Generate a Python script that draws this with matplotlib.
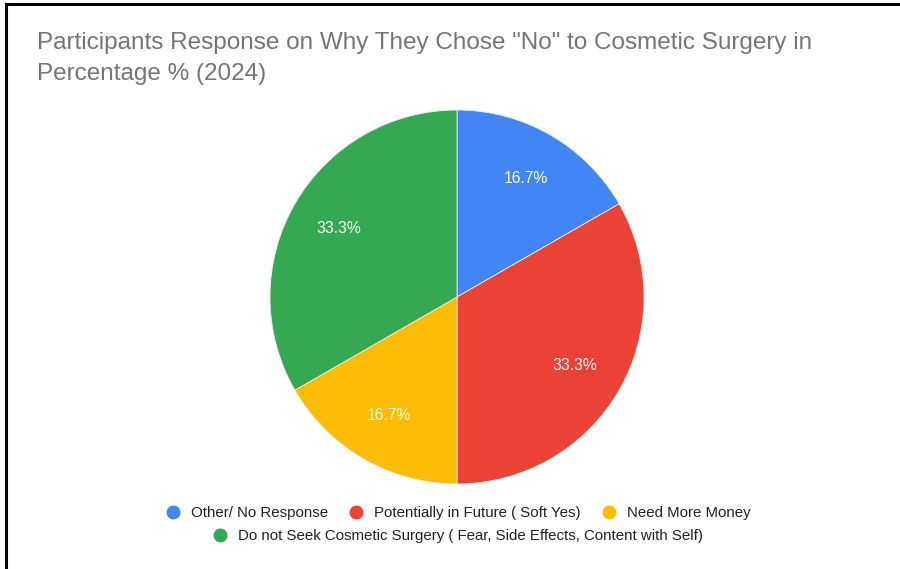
import matplotlib.pyplot as plt
from matplotlib.lines import Line2D

plt.rcParams['font.family'] = ['Liberation Sans', 'DejaVu Sans']

labels = ['Other/ No Response', 'Potentially in Future ( Soft Yes)', 'Need More Money',
          'Do not Seek Cosmetic Surgery ( Fear, Side Effects, Content with Self)']
values = [16.7, 33.3, 16.7, 33.3]
colors = ['#4285f4', '#ea4335', '#fbbc04', '#34a853']

W, H = 900, 569
fig = plt.figure(figsize=(9, 5.69), dpi=100)

# pie centred at (457, 297) px, radius ~187 px
cx, cy, r = 457, 297, 187
ax = fig.add_axes([(cx - r) / W, (H - cy - r) / H, 2 * r / W, 2 * r / H])
wedges, texts, autotexts = ax.pie(values, colors=colors, startangle=90, counterclock=False,
                                  autopct='%1.1f%%', pctdistance=0.73, radius=1,
                                  wedgeprops=dict(linewidth=0.6, edgecolor='#eeeeee'),
                                  textprops=dict(color='white', fontsize=11.3))
ax.set_xlim(-1, 1)
ax.set_ylim(-1, 1)
ax.set_aspect('equal')
ax.axis('off')

fig.text(37 / W, 1 - 32 / H, 'Participants Response on Why They Chose "No" to Cosmetic Surgery in\nPercentage % (2024)',
         fontsize=17.5, color='#757575', ha='left', va='top', linespacing=1.55)

handles = [Line2D([], [], marker='o', linestyle='', markersize=9, color=c) for c in colors]
leg1 = fig.legend(handles[:3], labels[:3], ncol=3, loc='center', bbox_to_anchor=(cx / W, 1 - 513 / H),
                  frameon=False, fontsize=10.8, handletextpad=0.6, columnspacing=1.27,
                  labelcolor='#222222', handlelength=1.2)
leg2 = fig.legend(handles[3:], labels[3:], loc='center', bbox_to_anchor=(cx / W, 1 - 536 / H),
                  frameon=False, fontsize=10.8, handletextpad=0.6, labelcolor='#222222', handlelength=1.2)

# screenshot border on top and left
fig.add_artist(Line2D([6 / W, 6 / W], [0, 1 - 4 / H], color='black', linewidth=2.2))
fig.add_artist(Line2D([6 / W, 1], [1 - 4 / H, 1 - 4 / H], color='black', linewidth=2.2))

fig.savefig('out.png', dpi=100)
